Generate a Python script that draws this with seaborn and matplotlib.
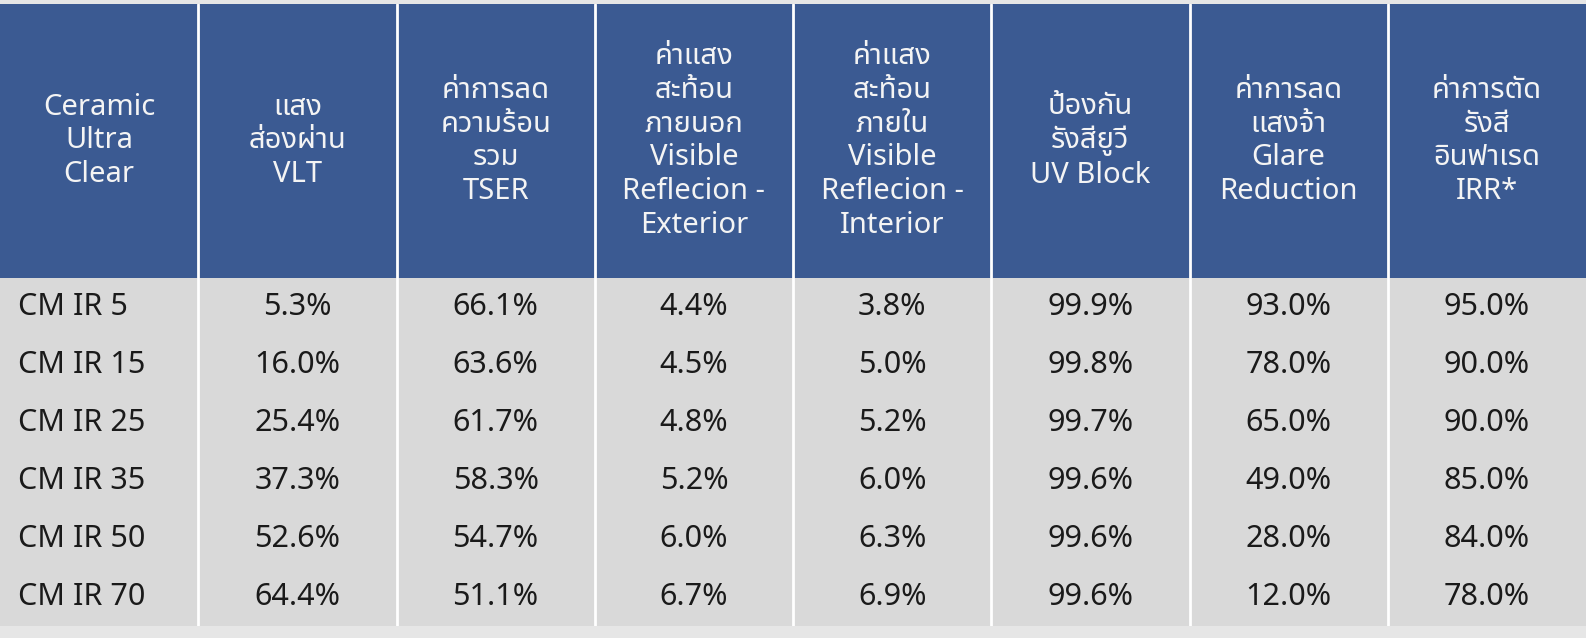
import matplotlib
matplotlib.use("Agg")
import matplotlib.pyplot as plt
import seaborn as sns
import numpy as np
from matplotlib.colors import ListedColormap

headers = ["Ceramic\nUltra\nClear", "แสง\nส่องผ่าน\nVLT", "ค่าการลด\nความร้อน\nรวม\nTSER",
           "ค่าแสง\nสะท้อน\nภายนอก\nVisible\nReflecion -\nExterior",
           "ค่าแสง\nสะท้อน\nภายใน\nVisible\nReflecion -\nInterior",
           "ป้องกัน\nรังสียูวี\nUV Block", "ค่าการลด\nแสงจ้า\nGlare\nReduction",
           "ค่าการตัด\nรังสี\nอินฟาเรด\nIRR*"]
films = ["CM IR 5", "CM IR 15", "CM IR 25", "CM IR 35", "CM IR 50", "CM IR 70"]
vlt = [5.3, 16.0, 25.4, 37.3, 52.6, 64.4]
tser = [66.1, 63.6, 61.7, 58.3, 54.7, 51.1]
refl_ext = [4.4, 4.5, 4.8, 5.2, 6.0, 6.7]
refl_int = [3.8, 5.0, 5.2, 6.0, 6.3, 6.9]
uv_block = [99.9, 99.8, 99.7, 99.6, 99.6, 99.6]
glare = [93.0, 78.0, 65.0, 49.0, 28.0, 12.0]
irr = [95.0, 90.0, 90.0, 85.0, 84.0, 78.0]

sns.set_theme(style="white")
plt.rcParams['font.family'] = ['Noto Sans Thai', 'Inter', 'DejaVu Sans']

W, H = 1586, 638
fig = plt.figure(figsize=(W/100, H/100), dpi=100)
fig.patch.set_facecolor("#e6e6e6")
ncol = len(headers)
ax_h = fig.add_axes([0, 1 - 278/H, 1, (278-4)/H])
ax_b = fig.add_axes([0, 1 - 626/H, 1, (626-278)/H])

sns.heatmap(np.zeros((1, ncol)), ax=ax_h, cmap=ListedColormap(["#3b5a92"]), cbar=False,
            xticklabels=False, yticklabels=False)
for j, t in enumerate(headers):
    ax_h.text(j + 0.5, 0.5, t, ha="center", va="center", color="#f4f4f4",
              fontsize=21, fontweight="bold", linespacing=1.22)

cols = [vlt, tser, refl_ext, refl_int, uv_block, glare, irr]
sns.heatmap(np.zeros((len(films), ncol)), ax=ax_b, cmap=ListedColormap(["#d9d9d9"]), cbar=False,
            xticklabels=False, yticklabels=False)
for i, f in enumerate(films):
    ax_b.text(0.09, i + 0.5, f, ha="left", va="center", color="#1a1a1a",
              fontsize=22, fontweight="medium")
    for j, c in enumerate(cols):
        ax_b.text(j + 1.5, i + 0.5, f"{c[i]:.1f}%", ha="center", va="center",
                  color="#1a1a1a", fontsize=22, fontweight="medium")

for ax in (ax_h, ax_b):
    for j in range(1, ncol):
        ax.axvline(j, color="white", lw=2)
    ax.set_xlim(0, ncol)

fig.savefig("out.png", dpi=100, facecolor=fig.get_facecolor())
